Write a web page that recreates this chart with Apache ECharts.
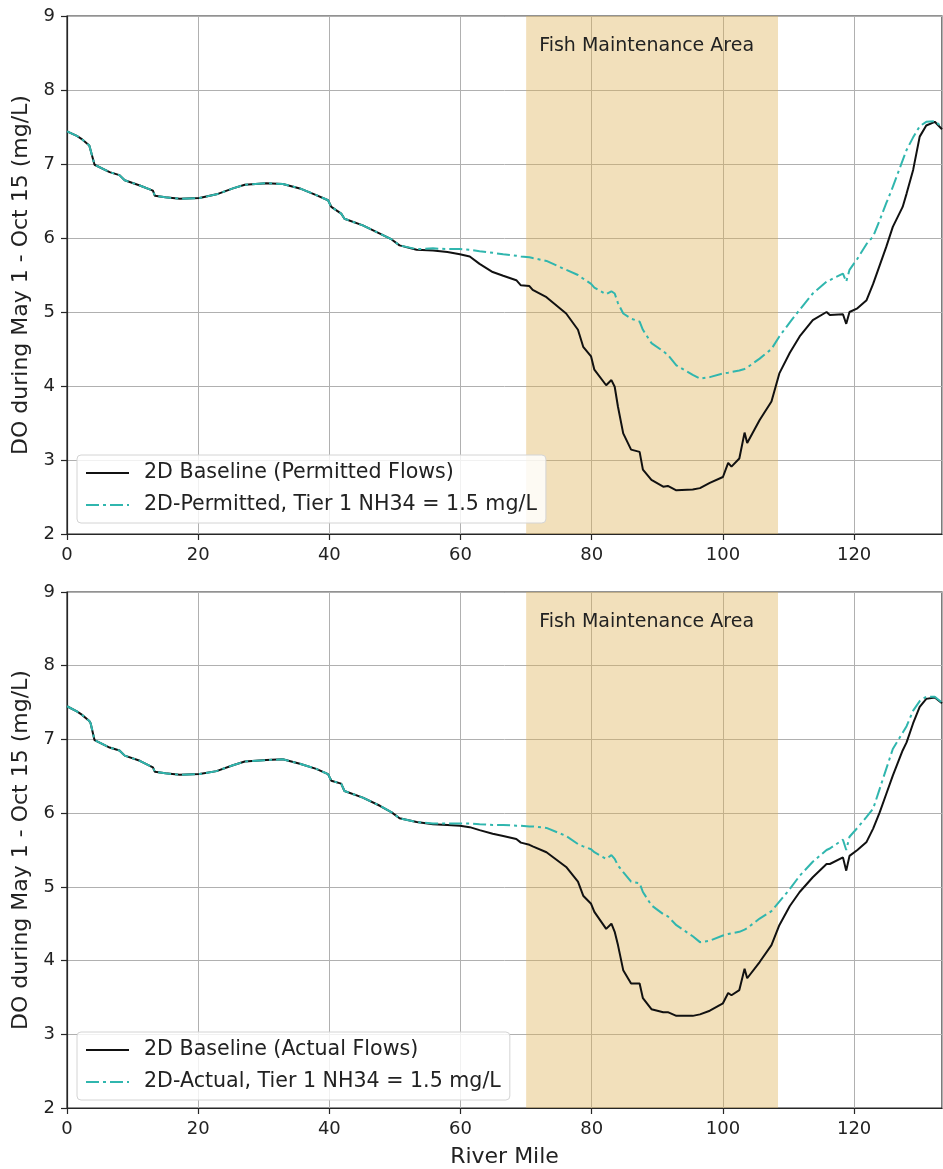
<!DOCTYPE html>
<html>
<head>
<meta charset="utf-8">
<script src="https://cdn.jsdelivr.net/npm/echarts@6/dist/echarts.min.js"></script>
<style>
  html, body { margin: 0; padding: 0; background: #fff; }
  #chart { width: 943px; height: 1169px; }
</style>
</head>
<body>
<div id="chart"></div>
<script>
// River mile stations shared by all four profiles
const miles = [
  0, 1.5, 2.2, 3.4, 3.6, 4.2,
  6.5, 8.0, 8.8, 11.1, 13.1, 13.4,
  15.0, 17.2, 20.2, 22.8, 25.3, 27.1,
  30.4, 32.9, 35.5, 38.0, 39.8, 40.3,
  41.8, 42.3, 45.1, 47.7, 49.5, 50.7,
  53.3, 55.8, 58.0, 59.9, 61.4, 62.9,
  64.9, 66.5, 68.5, 69.2, 70.5, 71.0,
  73.1, 76.1, 77.9, 78.7, 79.9, 80.4,
  82.2, 83.0, 83.5, 84.0, 84.8, 86.0,
  87.3, 87.8, 89.1, 90.9, 91.6, 92.9,
  95.4, 96.5, 98.0, 100.0, 100.8, 101.3,
  102.5, 103.3, 103.7, 105.6, 107.4, 108.6,
  110.2, 111.7, 113.7, 115.8, 116.3, 118.3,
  118.8, 119.3, 120.5, 121.9, 122.9, 123.9,
  124.9, 125.9, 127.4, 128.0, 129.0, 130.0,
  131.0, 132.3, 133.4
];

// Upper panel: permitted flows (DO, mg/L)
const basePermitted = [
  7.44, 7.38, 7.34, 7.25, 7.23, 6.99,
  6.89, 6.85, 6.78, 6.71, 6.64, 6.57,
  6.55, 6.53, 6.54, 6.59, 6.67, 6.72,
  6.74, 6.73, 6.67, 6.58, 6.51, 6.42,
  6.33, 6.26, 6.17, 6.06, 5.98, 5.90,
  5.84, 5.83, 5.81, 5.78, 5.75, 5.65,
  5.54, 5.49, 5.43, 5.36, 5.35, 5.30,
  5.20, 4.98, 4.76, 4.53, 4.40, 4.22,
  4.01, 4.08, 3.99, 3.72, 3.36, 3.14,
  3.11, 2.87, 2.73, 2.64, 2.65, 2.59,
  2.60, 2.62, 2.69, 2.77, 2.96, 2.91,
  3.02, 3.37, 3.23, 3.54, 3.79, 4.17,
  4.45, 4.67, 4.89, 5.00, 4.96, 4.97,
  4.84, 5.00, 5.05, 5.16, 5.38, 5.63,
  5.88, 6.15, 6.42, 6.60, 6.92, 7.37,
  7.52, 7.57, 7.47
];
const tierPermitted = [
  7.44, 7.38, 7.34, 7.25, 7.23, 6.99,
  6.89, 6.85, 6.78, 6.71, 6.64, 6.57,
  6.55, 6.53, 6.54, 6.59, 6.67, 6.72,
  6.74, 6.73, 6.67, 6.58, 6.51, 6.42,
  6.33, 6.26, 6.17, 6.06, 5.98, 5.90,
  5.85, 5.86, 5.85, 5.85, 5.84, 5.82,
  5.80, 5.78, 5.76, 5.75, 5.74, 5.73,
  5.69, 5.57, 5.50, 5.45, 5.38, 5.33,
  5.24, 5.28, 5.25, 5.12, 4.98, 4.91,
  4.87, 4.76, 4.58, 4.47, 4.42, 4.28,
  4.15, 4.10, 4.12, 4.17, 4.18, 4.19,
  4.21, 4.23, 4.25, 4.37, 4.50, 4.67,
  4.86, 5.03, 5.25, 5.41, 5.43, 5.52,
  5.41, 5.57, 5.72, 5.92, 6.02, 6.24,
  6.47, 6.69, 7.05, 7.19, 7.36, 7.51,
  7.57, 7.58, 7.50
];

// Lower panel: actual flows (DO, mg/L)
const baseActual = [
  7.45, 7.38, 7.34, 7.25, 7.22, 6.99,
  6.89, 6.85, 6.78, 6.71, 6.62, 6.56,
  6.54, 6.52, 6.53, 6.57, 6.65, 6.70,
  6.72, 6.73, 6.67, 6.60, 6.53, 6.44,
  6.40, 6.30, 6.21, 6.10, 6.01, 5.93,
  5.88, 5.85, 5.84, 5.83, 5.81, 5.77,
  5.72, 5.69, 5.65, 5.60, 5.57, 5.55,
  5.47, 5.27, 5.07, 4.88, 4.77, 4.66,
  4.43, 4.50, 4.39, 4.21, 3.87, 3.69,
  3.69, 3.49, 3.34, 3.30, 3.30, 3.25,
  3.25, 3.27, 3.32, 3.42, 3.56, 3.53,
  3.60, 3.89, 3.76, 3.98, 4.21, 4.48,
  4.74, 4.93, 5.13, 5.31, 5.31, 5.40,
  5.22, 5.42, 5.50, 5.61, 5.79, 6.01,
  6.26, 6.51, 6.85, 6.96, 7.22, 7.44,
  7.55, 7.57, 7.49
];
const tierActual = [
  7.45, 7.38, 7.34, 7.25, 7.22, 6.99,
  6.89, 6.85, 6.78, 6.71, 6.62, 6.56,
  6.54, 6.52, 6.53, 6.57, 6.65, 6.70,
  6.72, 6.73, 6.67, 6.60, 6.53, 6.44,
  6.40, 6.30, 6.21, 6.10, 6.01, 5.93,
  5.88, 5.86, 5.86, 5.86, 5.86, 5.85,
  5.84, 5.84, 5.83, 5.83, 5.82, 5.82,
  5.80, 5.69, 5.58, 5.55, 5.51, 5.47,
  5.38, 5.43, 5.38, 5.29, 5.20, 5.07,
  5.05, 4.93, 4.75, 4.63, 4.60, 4.48,
  4.33, 4.25, 4.27, 4.34, 4.36, 4.37,
  4.39, 4.42, 4.44, 4.57, 4.67, 4.80,
  4.97, 5.15, 5.34, 5.50, 5.52, 5.64,
  5.50, 5.68, 5.80, 5.95, 6.06, 6.33,
  6.60, 6.87, 7.09, 7.18, 7.39, 7.52,
  7.58, 7.58, 7.50
];

// Reach highlighted in both panels (river miles)
const fishArea = [70, 108.4];
const fishLabel = 'Fish Maintenance Area';

const seriesNames = {
  basePermitted: '2D Baseline (Permitted Flows)',
  tierPermitted: '2D-Permitted, Tier 1 NH34 = 1.5 mg/L',
  baseActual: '2D Baseline (Actual Flows)',
  tierActual: '2D-Actual, Tier 1 NH34 = 1.5 mg/L'
};

const xTicks = { min: 0, max: 133.4, interval: 20 };
const yTicks = { min: 2, max: 9, interval: 1 };
const yTitle = 'DO during May 1 - Oct 15 (mg/L)';
const xTitle = 'River Mile';

const FONT = 'DejaVu Sans';
const INK = '#222';
const BLACK = '#111';
const TEAL = '#30b6ae';
const GRID = '#b0b0b0';

function pairs(xs, ys) { return xs.map((x, i) => [x, ys[i]]); }

function xAxisFor(gridIndex, withName) {
  return {
    type: 'value', gridIndex,
    min: xTicks.min, max: xTicks.max, interval: xTicks.interval,
    name: withName ? xTitle : '',
    nameLocation: 'middle', nameGap: 38,
    nameTextStyle: { fontFamily: FONT, fontSize: 22, color: INK },
    axisLine: { show: true, onZero: false, lineStyle: { color: '#262626', width: 1.2 } },
    axisTick: { show: true, length: 6, lineStyle: { color: '#262626', width: 1.2 } },
    axisLabel: { show: true, margin: 12, fontFamily: FONT, fontSize: 18, color: INK, showMaxLabel: false },
    splitLine: { show: true, lineStyle: { color: GRID, width: 1 } }
  };
}

function yAxisFor(gridIndex) {
  return {
    type: 'value', gridIndex,
    min: yTicks.min, max: yTicks.max, interval: yTicks.interval,
    name: yTitle, nameLocation: 'middle', nameGap: 34, nameRotate: 90,
    nameTextStyle: { fontFamily: FONT, fontSize: 22, color: INK },
    axisLine: { show: true, onZero: false, lineStyle: { color: '#262626', width: 1.2 } },
    axisTick: { show: true, length: 6, lineStyle: { color: '#262626', width: 1.2 } },
    axisLabel: { show: true, margin: 12, fontFamily: FONT, fontSize: 18, color: INK },
    splitLine: { show: true, lineStyle: { color: GRID, width: 1 } }
  };
}

function shade() {
  return {
    silent: true,
    itemStyle: { color: 'rgba(222, 178, 84, 0.4)' },
    label: {
      show: true, position: [13, 21], align: 'left', verticalAlign: 'top',
      fontFamily: FONT, fontSize: 19, color: INK
    },
    data: [[{ name: fishLabel, xAxis: fishArea[0] }, { xAxis: fishArea[1] }]]
  };
}

function blackLine(name, gi, ys) {
  return {
    name, type: 'line', xAxisIndex: gi, yAxisIndex: gi,
    data: pairs(miles, ys), symbol: 'none', z: 2,
    lineStyle: { color: BLACK, width: 2 }, itemStyle: { color: BLACK },
    markArea: shade()
  };
}

function tealLine(name, gi, ys) {
  return {
    name, type: 'line', xAxisIndex: gi, yAxisIndex: gi,
    data: pairs(miles, ys), symbol: 'none', z: 3,
    lineStyle: { color: TEAL, width: 2, type: [13, 4, 3, 4] }, itemStyle: { color: TEAL }
  };
}

function legendFor(names, top) {
  return {
    data: names, orient: 'vertical', left: 77, top,
    itemWidth: 43, itemHeight: 14, itemGap: 10,
    padding: [7, 9, 7, 8],
    backgroundColor: 'rgba(255,255,255,0.82)',
    borderColor: '#d4d4d4', borderWidth: 1, borderRadius: 4,
    // legend keys show only the line sample, no marker
    itemStyle: { opacity: 0 },
    lineStyle: { width: 2 },
    textStyle: { fontFamily: FONT, fontSize: 20.6, color: INK, lineHeight: 22, padding: [0, 0, 0, 10] },
    selectedMode: false
  };
}

const chart = echarts.init(document.getElementById('chart'), null, { renderer: 'canvas' });
chart.setOption({
  animation: false,
  backgroundColor: '#fff',
  grid: [
    { left: 67, top: 16, width: 875, height: 518, show: true, borderColor: '#262626', borderWidth: 1.2, backgroundColor: 'transparent' },
    { left: 67, top: 592, width: 875, height: 518, show: true, borderColor: '#262626', borderWidth: 1.2, backgroundColor: 'transparent' }
  ],
  xAxis: [xAxisFor(0, false), xAxisFor(1, true)],
  yAxis: [yAxisFor(0), yAxisFor(1)],
  legend: [
    legendFor([seriesNames.basePermitted, seriesNames.tierPermitted], 455),
    legendFor([seriesNames.baseActual, seriesNames.tierActual], 1032)
  ],
  series: [
    blackLine(seriesNames.basePermitted, 0, basePermitted),
    tealLine(seriesNames.tierPermitted, 0, tierPermitted),
    blackLine(seriesNames.baseActual, 1, baseActual),
    tealLine(seriesNames.tierActual, 1, tierActual)
  ]
});
</script>
</body>
</html>
